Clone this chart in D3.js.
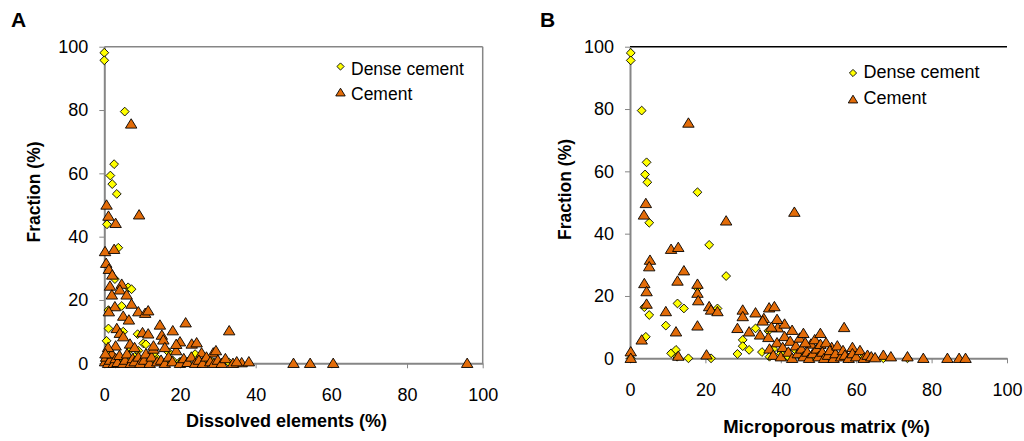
<!DOCTYPE html>
<html><head><meta charset="utf-8">
<script src="https://cdn.jsdelivr.net/npm/d3@7"></script>
<style>body{margin:0;background:#fff}svg{display:block}text{font-family:"Liberation Sans",Arial,sans-serif;fill:#000}</style>
</head><body><svg id="c" width="1024" height="441"></svg>
<script>
const xTicks = [0, 20, 40, 60, 80, 100];
const yTicks = [0, 20, 40, 60, 80, 100];
const seriesNames = ["Dense cement", "Cement"];

// Panel A: x = dissolved elements (%), y = fraction (%)
const denseA = [
[0.0,98.1],[0.0,95.7],[5.4,79.5],[2.6,62.9],[1.6,59.3],[2.1,56.6],[3.3,53.5],[0.7,43.9],[3.7,36.5],[2.8,26.6],
[6.3,24],[7.2,23.4],[4.6,18.1],[1.1,16.8],[1.1,11],[0.6,7.1],[5,10],[8.8,9.2],[10.3,6.3],[24,2.9],[33,0.2],
[1.5,3],[2.5,2],[4,1],[6,0.5],[8,2],[10,1],[12,0.5],[14,1.5],[16,0.3],[18,1],[20,0.5],[22,0.2],[26,0.5],[28,1],
[3,0],[0.3,0.5],[0.5,1.5],[9,4],[13,3],[11,6],[7,4.5],[17,3.5],[30,0.5]
];
const cementA = [
[7.1,75.6],[0.6,50],[1.1,46.5],[3,44.2],[9.2,46.9],[0.2,35.3],[2.6,36],[0.5,31.6],[1.2,29.7],[2.1,27.9],
[1.5,24.4],[4.6,25],[4.1,23.2],[5.9,21.6],[2,21.6],[7.2,18.7],[2.8,17.9],[1.2,16.3],[9,16.3],[10.8,15.8],
[11.6,16.6],[5,14.9],[6.5,13.7],[14.7,12.1],[21.5,12.8],[18.1,10.3],[33,10.3],[3.3,11],[4.1,9.5],[5,8.4],
[10.1,9.7],[11.6,9.3],[15.2,8.9],[15.6,7.4],[6.8,6.1],[20,6.8],[23.1,6.1],[24.4,6.5],[25.7,3.3],[28.8,3.3],
[29.5,4],[36.3,0.2],[38.2,0.5],[50,0],[54.4,0],[60.5,0],[95.9,0],
[0.2,0.5],[0.5,2],[1,0],[1.5,1],[2,3],[2.5,0],[3,1.5],[3.5,0.3],[4,2.5],[5,0],[5.5,1],[6,3],[7,0],[7.5,1.5],
[8,0.5],[9,2],[9.5,0],[10.5,1],[11,3],[12,0],[12.5,2],[13,4.5],[14,0.5],[15,1],[16,0],[17,2],[18,0.5],[19,4],
[20,0],[21,1.5],[22,0.3],[23,2],[24,0],[25,1],[26,0],[27,2],[28,0.5],[29,0],[30,1],[31,0],[32,1.5],[34,0],
[35,0.5],[13,5.5],[16,5],[19,6],[8,5],[3,5.5],[1,5],[0.3,3]
];

// Panel B: x = microporous matrix (%), y = fraction (%)
const denseB = [
[0.2,98],[0.2,95.6],[3.1,79.5],[4.4,62.9],[4,59],[4.6,56.5],[17.9,53.3],[5.1,43.5],[21,36.4],[25.5,26.4],
[17.9,22.5],[3.8,16.4],[5.1,13.9],[12.6,17.6],[14.3,16],[23.2,16],[9.5,10.5],[4.2,6.9],[10.9,1.6],[12.2,2.7],
[15.5,0],[21.5,0],[36.7,8.8],[33.3,9.6],[29.9,5.9],[29.9,3.9],[31.6,2.7],[28.5,1.4],[38,3],[40,1.5],[42,0.5],
[45,1],[48,0.3],[50,1],[52,0.5],[55,0.2],[58,0],[62,0.5],[67.2,0],[73.6,0],[35,2],[37,0.5],[44,2.5],[12.5,0.5],[0.2,0]
];
const cementB = [
[15.5,75.5],[4.2,49.7],[43.6,46.9],[3.7,46],[25.5,44.1],[10.9,35],[12.8,35.6],[5.3,31.5],[5.1,29.4],[14.3,28.1],
[3.8,24],[4.4,21.4],[12.6,24.8],[17.9,23.8],[17.9,20.9],[18.1,18.5],[4.4,17.4],[9.5,15],[21,16.6],[21.5,15.5],
[23.2,15],[12.2,8.5],[17.9,10.4],[3.1,5.9],[12.8,0.7],[20.3,1.1],[0.2,2.1],[0.2,0],[29.9,15.5],[29.9,13.4],
[33.3,14.6],[35.5,12.8],[35.2,12],[36.9,16.2],[38.3,16.6],[28.5,9.6],[31.6,8.5],[34.5,7.5],[36.7,6.7],[39.2,9.8],
[56.8,9.9],[48,4.6],[53.5,3.5],[59,3.5],[67.2,1],[69.2,0.5],[73.6,0.5],[77.8,0],[84.2,0],[87.3,0],[89,0],
[37,3],[38,1],[39,5],[40,0.5],[40.5,3.5],[41,7],[42,2],[42.5,5.5],[43,0],[44,4],[44.5,1.5],[45,6.5],[45.5,3],
[46,0.5],[46.5,5],[47,2],[47.5,0],[48.5,1.5],[49,6],[49.5,3],[50,0.5],[50.5,4.5],[51,2],[51.5,0],[52,5],[52.5,1],
[53,2.5],[54,0],[54.5,1.5],[55,4],[56,0.5],[56.5,2.5],[57,1],[58,0],[59,1.5],[60,0.5],[61,2.5],[62,0],[63,1],
[64,0.5],[65,0.2],[43,9],[41,11],[46,8],[50.5,8],[39,12.5],[37.5,10]
];

const svg = d3.select("#c");
const FONT = '"Liberation Sans",Arial,sans-serif';

function diamond(s){ return `M0,${-s}L${s},0L0,${s}L${-s},0Z`; }
function triangle(s){ return `M0,${-s}L${s*1.1},${s*0.8}L${-s*1.1},${s*0.8}Z`; }

const panels = [
  {label:"A", x0:104.3, x1:482.7, y0:363.3, y1:46.7, dense:denseA, cement:cementA, xTitle:"Dissolved elements (%)",
   xTitleX:286.5, xTitleY:427, xTitleSize:18, yTitleX:34, labX:11, labY:27, labSize:21, topColor:"#868686", rightColor:"#868686",
   legX:340.5, legY1:66.5, legY2:92.5, legTX:351, legB1:75, legB2:100, legSize:17.5},
  {label:"B", x0:630, x1:1007, y0:358.3, y1:46.7, dense:denseB, cement:cementB, xTitle:"Microporous matrix (%)",
   xTitleX:826.5, xTitleY:433, xTitleSize:18.5, yTitleX:565, labX:540, labY:27, labSize:21, topColor:"#000", rightColor:"none",
   legX:853, legY1:73, legY2:99.5, legTX:863.5, legB1:77.5, legB2:103.5, legSize:18}
];

panels.forEach(p => {
  const x = d3.scaleLinear().domain([0,100]).range([p.x0, p.x1]);
  const y = d3.scaleLinear().domain([0,100]).range([p.y0, p.y1]);
  const g = svg.append("g");

  g.append("line").attr("x1",p.x0).attr("x2",p.x1).attr("y1",p.y1).attr("y2",p.y1).attr("stroke",p.topColor).attr("stroke-width",1.5);
  if (p.rightColor!=="none") g.append("line").attr("x1",p.x1).attr("x2",p.x1).attr("y1",p.y1).attr("y2",p.y0).attr("stroke",p.rightColor).attr("stroke-width",1.5);

  const xa = g.append("g").attr("transform",`translate(0,${p.y0})`)
    .call(d3.axisBottom(x).tickValues(xTicks).tickSize(5).tickPadding(20).tickSizeOuter(0));
  const ya = g.append("g").attr("transform",`translate(${p.x0},0)`)
    .call(d3.axisLeft(y).tickValues(yTicks).tickSize(5).tickPadding(11).tickSizeOuter(0));
  [xa, ya].forEach(a => {
    a.select(".domain").attr("stroke","#868686").attr("stroke-width",2);
    a.selectAll(".tick line").attr("stroke","#868686").attr("stroke-width",1);
    a.selectAll(".tick text").attr("font-family",FONT).attr("font-size",18).attr("fill","#000");
  });

  g.append("g").selectAll("path").data(p.dense).join("path")
    .attr("d", diamond(4.4)).attr("transform", d => `translate(${x(d[0])},${y(d[1])})`)
    .attr("fill","#FFFF00").attr("stroke","#000").attr("stroke-width",0.9);
  g.append("g").selectAll("path").data(p.cement).join("path")
    .attr("d", triangle(5.2)).attr("transform", d => `translate(${x(d[0])},${y(d[1])})`)
    .attr("fill","#E36C09").attr("stroke","#000").attr("stroke-width",0.9);

  g.append("text").attr("x",p.xTitleX).attr("y",p.xTitleY).attr("text-anchor","middle")
    .attr("font-weight","bold").attr("font-size",p.xTitleSize).text(p.xTitle);
  g.append("text").attr("transform",`translate(${p.yTitleX},${(p.y0+p.y1)/2 - 13}) rotate(-90)`)
    .attr("text-anchor","middle").attr("dominant-baseline","central")
    .attr("font-weight","bold").attr("font-size",17.5).text("Fraction (%)");
  g.append("text").attr("x",p.labX).attr("y",p.labY).attr("font-weight","bold").attr("font-size",p.labSize).text(p.label);

  g.append("path").attr("d",diamond(3.6)).attr("transform",`translate(${p.legX},${p.legY1})`)
    .attr("fill","#FFFF00").attr("stroke","#000").attr("stroke-width",0.9);
  g.append("text").attr("x",p.legTX).attr("y",p.legB1).attr("font-size",p.legSize).text(seriesNames[0]);
  g.append("path").attr("d",triangle(4.3)).attr("transform",`translate(${p.legX},${p.legY2})`)
    .attr("fill","#E36C09").attr("stroke","#000").attr("stroke-width",0.9);
  g.append("text").attr("x",p.legTX).attr("y",p.legB2).attr("font-size",p.legSize).text(seriesNames[1]);
});
</script></body></html>
